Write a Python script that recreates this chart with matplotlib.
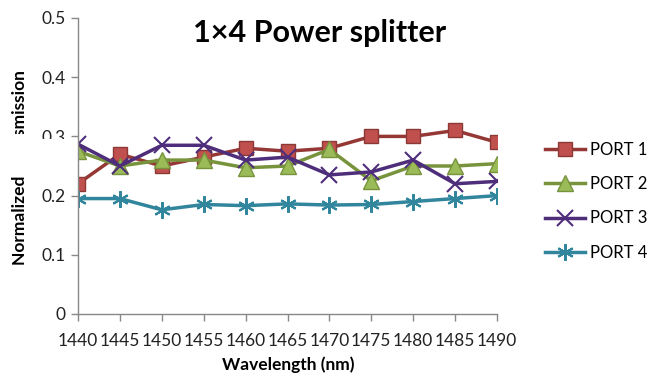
import matplotlib
matplotlib.use("Agg")
import matplotlib.pyplot as plt
from matplotlib.patches import Rectangle

plt.rcParams['font.family'] = ['Lato', 'DejaVu Sans']

wavelength = [1440, 1445, 1450, 1455, 1460, 1465, 1470, 1475, 1480, 1485, 1490]
port1 = [0.22, 0.27, 0.25, 0.265, 0.28, 0.275, 0.28, 0.30, 0.30, 0.31, 0.29]
port2 = [0.275, 0.25, 0.26, 0.26, 0.247, 0.25, 0.278, 0.225, 0.25, 0.25, 0.254]
port3 = [0.287, 0.25, 0.285, 0.285, 0.26, 0.265, 0.235, 0.24, 0.26, 0.22, 0.224]
port4 = [0.195, 0.195, 0.176, 0.185, 0.183, 0.186, 0.184, 0.185, 0.19, 0.195, 0.2]
series_names = ["PORT 1", "PORT 2", "PORT 3", "PORT 4"]
yticks = [0, 0.1, 0.2, 0.3, 0.4, 0.5]
ytick_labels = ["0", "0.1", "0.2", "0.3", "0.4", "0.5"]

W, H = 653, 376
fig = plt.figure(figsize=(W / 100, H / 100), dpi=100)
ax = fig.add_axes([78 / W, 1 - 314 / H, (497 - 78) / W, (314 - 18) / H])

styles = [
    dict(color="#953735", marker="s", ms=10, mfc="#C0504D", mec="#8C3836", mew=1.0),
    dict(color="#77933C", marker="^", ms=11, mfc="#9BBB59", mec="#77933C", mew=1.0),
    dict(color="#4E2D7A", marker="x", ms=11, mew=1.5),
    dict(color="#31859C", marker=(6, 2, 0), ms=12, mec="#31859C", mew=1.5),
]
for vals, name, st in zip([port1, port2, port3, port4], series_names, styles):
    ax.plot(wavelength, vals, lw=2.5, label=name, **st)

ax.set_xlim(1440, 1490)
ax.set_ylim(0, 0.5)
ax.set_xticks(wavelength)
ax.set_xticklabels([str(w) for w in wavelength])
ax.set_yticks(yticks)
ax.set_yticklabels(ytick_labels)
ax.tick_params(axis="both", labelsize=12.5, length=5, width=1, color="#888888",
               colors="#222222", pad=4)
ax.tick_params(axis="x", pad=9)
for s in ["top", "right"]:
    ax.spines[s].set_visible(False)
for s in ["left", "bottom"]:
    ax.spines[s].set_color("#888888")
    ax.spines[s].set_linewidth(1)
for lab in ax.get_xticklabels() + ax.get_yticklabels():
    lab.set_clip_on(False)

fig.text(320 / W, 1 - 33 / H, "1×4 Power splitter", ha="center", va="center",
         fontsize=22, fontweight="bold")
fig.text(288 / W, 1 - 365 / H, "Wavelength (nm)", ha="center", va="center",
         fontsize=12.5, fontweight="bold")
fig.text(20 / W, 1 - 168 / H, "Normalized Transmission", ha="center", va="center",
         rotation=90, fontsize=12.5, fontweight="bold")

# white box partially covering the y-axis title and the 0.3 label
fig.add_artist(Rectangle((0, 1 - 173 / H), 30 / W, 39 / H, transform=fig.transFigure,
                         facecolor="white", edgecolor="none", zorder=10))
fig.add_artist(Rectangle((30 / W, 1 - 173 / H), 40 / W, 34 / H, transform=fig.transFigure,
                         facecolor="white", edgecolor="none", zorder=10))

leg = fig.legend(loc="upper left", bbox_to_anchor=(538 / W, 1 - 135 / H),
                 frameon=False, fontsize=12, handlelength=2.4, labelspacing=1.1,
                 handletextpad=0.3, borderaxespad=0)

fig.savefig("out.png", dpi=100)
